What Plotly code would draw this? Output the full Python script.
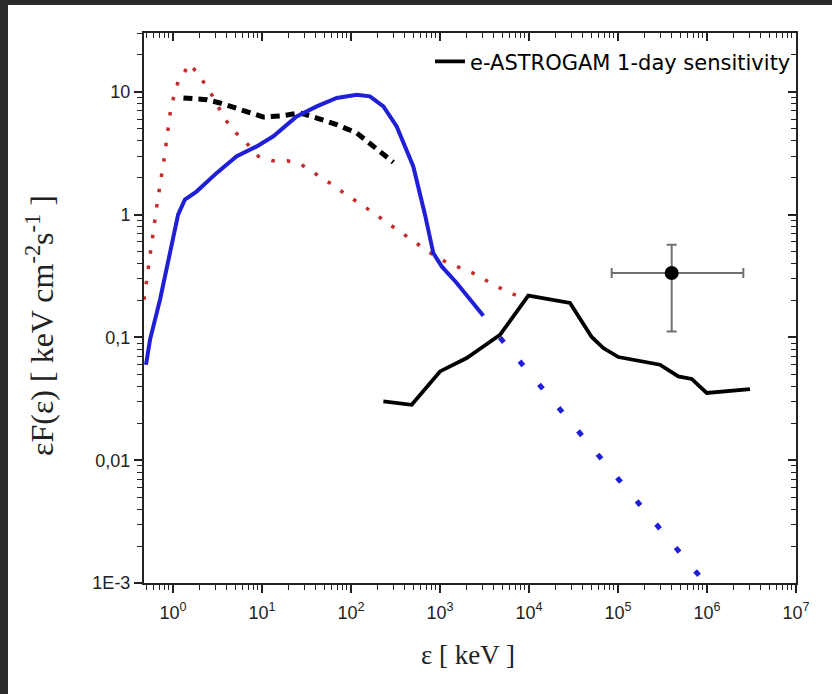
import plotly.graph_objects as go

# ---- data ----
blue_x = [0.497, 0.552, 0.714, 0.925, 1.14, 1.36, 1.85, 3.10, 5.20, 8.72, 13.4, 24.5, 41.2, 69.1,
          116, 163, 231, 326, 501, 678, 841, 1045, 1541, 3066]
blue_y = [0.060, 0.096, 0.203, 0.472, 1.0, 1.33, 1.55, 2.19, 2.99, 3.60, 4.35, 6.32, 7.63, 8.93,
          9.50, 9.20, 7.63, 5.24, 2.47, 1.0, 0.487, 0.379, 0.278, 0.150]

blue_ext_x = [4720, 8.13e5]
blue_ext_y = [0.0995, 0.001154]

red_x = [0.472, 0.552, 0.661, 0.792, 0.95, 1.14, 1.55, 2.10, 2.72, 3.44, 4.45, 6.44, 9.09, 13.2,
         19.3, 27.9, 40.4, 59.2, 85.6, 124, 181, 263, 381, 547, 807, 1159, 1679, 2472, 3581, 5148, 7586]
red_y = [0.203, 0.472, 1.21, 2.81, 7.59, 12.1, 17.0, 12.7, 9.50, 6.95, 5.08, 3.96, 2.99, 2.75,
         2.75, 2.55, 2.16, 1.79, 1.48, 1.24, 1.03, 0.845, 0.70, 0.580, 0.481, 0.412, 0.372, 0.329,
         0.281, 0.245, 0.216]

dash_x = [1.31, 2.39, 3.37, 5.20, 10.3, 17.4, 26.7, 41.2, 69.1, 116, 194, 299]
dash_y = [8.93, 8.65, 8.13, 7.40, 6.25, 6.41, 6.74, 6.13, 5.41, 4.63, 3.39, 2.67]

sens_x = [231, 481, 1000, 1995, 3066, 4720, 9820, 28900, 50600, 68400, 1.01e5, 2.96e5, 4.76e5,
          6.73e5, 9.93e5, 3.04e6]
sens_y = [0.0301, 0.0283, 0.0529, 0.068, 0.0845, 0.105, 0.219, 0.191, 0.101, 0.082, 0.0693, 0.060,
          0.0482, 0.0459, 0.0353, 0.038]

pt_x = [4.01e5]
pt_y = [0.335]
pt_xlo = [8.49e4]
pt_xhi = [2.56e6]
pt_ylo = [0.112]
pt_yhi = [0.570]

xtick_vals = [1, 10, 100, 1e3, 1e4, 1e5, 1e6, 1e7]
xtick_text = ["10<sup>0</sup>", "10<sup>1</sup>", "10<sup>2</sup>", "10<sup>3</sup>",
              "10<sup>4</sup>", "10<sup>5</sup>", "10<sup>6</sup>", "10<sup>7</sup>"]
ytick_vals = [1e-3, 0.01, 0.1, 1, 10]
ytick_text = ["1E-3", "0,01", "0,1", "1", "10"]

sens_name = "e-ASTROGAM 1-day sensitivity"

# ---- figure ----
fig = go.Figure()

fig.add_trace(go.Scatter(x=red_x, y=red_y, mode="lines", showlegend=False,
                         line=dict(color="#c42a2a", width=3.5, dash="3.5px,12px")))
fig.add_trace(go.Scatter(x=dash_x, y=dash_y, mode="lines", showlegend=False,
                         line=dict(color="black", width=5, dash="9px,6px")))
fig.add_trace(go.Scatter(x=blue_x, y=blue_y, mode="lines", showlegend=False,
                         line=dict(color="#1f1fd8", width=4)))
fig.add_trace(go.Scatter(x=blue_ext_x, y=blue_ext_y, mode="lines", showlegend=False,
                         line=dict(color="#1f1fd8", width=5, dash="6px,24.4px")))
fig.add_trace(go.Scatter(x=sens_x, y=sens_y, mode="lines", name=sens_name, showlegend=True,
                         line=dict(color="black", width=3.8)))

ex_plus = [pt_xhi[0] - pt_x[0]]
ex_minus = [pt_x[0] - pt_xlo[0]]
ey_plus = [pt_yhi[0] - pt_y[0]]
ey_minus = [pt_y[0] - pt_ylo[0]]
fig.add_trace(go.Scatter(x=pt_x, y=pt_y, mode="markers", showlegend=False,
                         marker=dict(color="black", size=14),
                         error_x=dict(type="data", symmetric=False, array=ex_plus, arrayminus=ex_minus,
                                      color="#707070", thickness=2, width=5),
                         error_y=dict(type="data", symmetric=False, array=ey_plus, arrayminus=ey_minus,
                                      color="#707070", thickness=2, width=5)))

# dummy trace for mirrored (inside-tick) axes
fig.add_trace(go.Scatter(x=[], y=[], xaxis="x2", yaxis="y2", showlegend=False, hoverinfo="skip"))

xr = [-0.326, 7.0]
yr = [-3.0, 1.48]

minor_x = [k * 10 ** n for n in range(-1, 7) for k in range(2, 10)]
minor_y = [k * 10 ** n for n in range(-3, 2) for k in range(2, 10)]

tickfont = dict(family="Liberation Sans, Arial, sans-serif", size=18, color="#222")

fig.update_layout(
    width=832, height=694,
    margin=dict(l=144, r=36, t=33, b=111),
    paper_bgcolor="#2b2b2b",
    plot_bgcolor="white",
    xaxis=dict(type="log", range=xr, showgrid=False, zeroline=False,
               showline=True, linecolor="#222", linewidth=2,
               ticks="outside", ticklen=8, tickwidth=1.5, tickcolor="#222",
               tickvals=xtick_vals, ticktext=xtick_text, tickfont=tickfont, ticklabelstandoff=4,
               minor=dict(tickvals=minor_x, ticks="outside", ticklen=5, tickwidth=1.2, tickcolor="#222",
                          showgrid=False)),
    yaxis=dict(type="log", range=yr, showgrid=False, zeroline=False,
               showline=True, linecolor="#222", linewidth=2,
               ticks="outside", ticklen=8, tickwidth=1.5, tickcolor="#222",
               tickvals=ytick_vals, ticktext=ytick_text, tickfont=tickfont,
               minor=dict(tickvals=minor_y, ticks="outside", ticklen=5, tickwidth=1.2, tickcolor="#222",
                          showgrid=False)),
    xaxis2=dict(type="log", range=xr, overlaying="x", anchor="y2", side="top",
                showgrid=False, zeroline=False, showline=True, linecolor="#222", linewidth=2,
                ticks="inside", ticklen=8, tickwidth=1.5, tickcolor="#222",
                tickvals=xtick_vals, showticklabels=False,
                minor=dict(tickvals=minor_x, ticks="inside", ticklen=5, tickwidth=1.2, tickcolor="#222",
                           showgrid=False)),
    yaxis2=dict(type="log", range=yr, overlaying="y", anchor="x2", side="right",
                showgrid=False, zeroline=False, showline=True, linecolor="#222", linewidth=2,
                ticks="inside", ticklen=8, tickwidth=1.5, tickcolor="#222",
                tickvals=ytick_vals, showticklabels=False,
                minor=dict(tickvals=minor_y, ticks="inside", ticklen=5, tickwidth=1.2, tickcolor="#222",
                           showgrid=False)),
    legend=dict(x=1.0, y=0.985, xanchor="right", yanchor="top", bgcolor="rgba(0,0,0,0)",
                font=dict(family="DejaVu Sans", size=21, color="black"), itemwidth=30),
    showlegend=True,
)

# white page area inside the dark frame
fig.add_shape(type="rect", xref="paper", yref="paper", layer="below",
              x0=(8 - 144) / 652, x1=(840 - 144) / 652,
              y0=(583 - 700) / 550, y1=(583 - 5) / 550,
              fillcolor="white", line=dict(width=0))

fig.add_annotation(text="εF(ε) [ keV cm<sup>-2</sup>s<sup>-1</sup> ]", xref="paper", yref="paper",
                   x=(40 - 144) / 652, y=(583 - 326) / 550, xanchor="center", yanchor="middle",
                   showarrow=False, textangle=-90,
                   font=dict(family="Liberation Serif, Times New Roman, serif", size=32, color="#222"))
fig.add_annotation(text="ε [ keV ]", xref="paper", yref="paper",
                   x=(468 - 144) / 652, y=(583 - 655) / 550, xanchor="center", yanchor="middle",
                   showarrow=False,
                   font=dict(family="Liberation Serif, Times New Roman, serif", size=27, color="#222"))

fig.write_html("out.html")
